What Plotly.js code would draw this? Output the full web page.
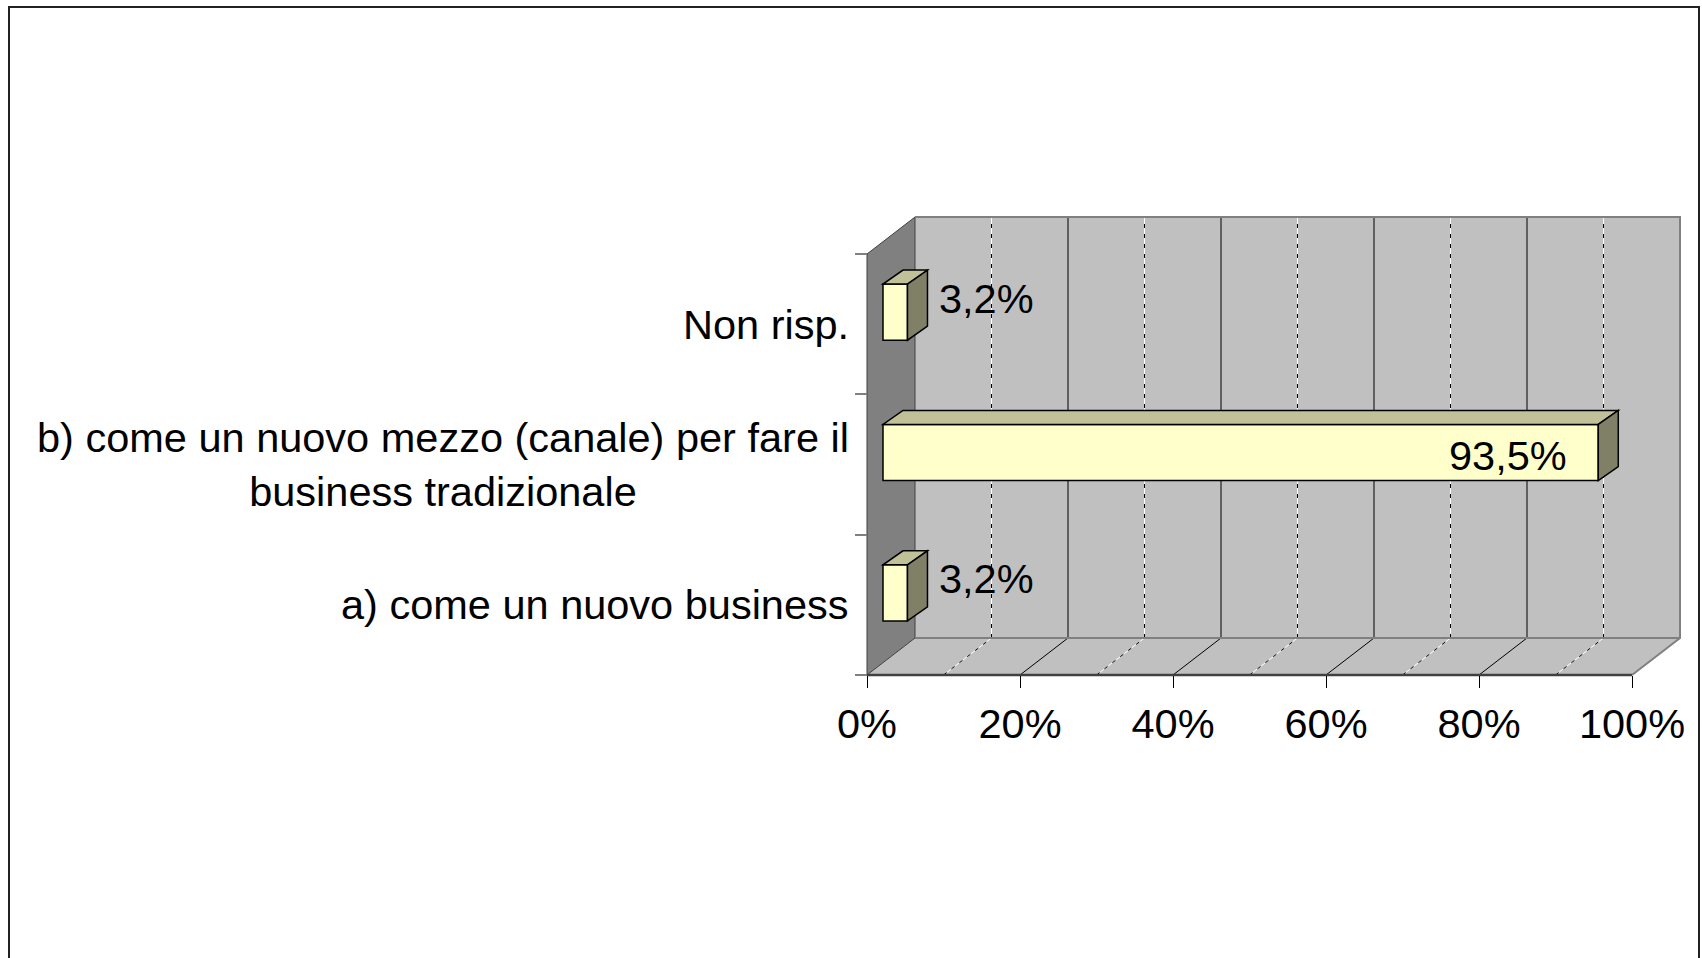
<!DOCTYPE html>
<html><head><meta charset="utf-8">
<script src="https://cdn.plot.ly/plotly-3.0.1.min.js"></script>
<style>html,body{margin:0;padding:0;background:#fff;}</style>
</head><body><div id="chart" style="width:1702px;height:958px;"></div>
<script>
// ---- data ----
const categories = ["a) come un nuovo business", "b) come un nuovo mezzo (canale) per fare il<br>business tradizionale", "Non risp."];
const values = [3.2, 93.5, 3.2];
const xTickValues = [0, 20, 40, 60, 80, 100];
const xTickLabels = ["0%", "20%", "40%", "60%", "80%", "100%"];
const gridMajor = [20, 40, 60, 80];
const gridMinor = [10, 30, 50, 70, 90];

// ---- geometry (pixels) ----
const W = 1702, H = 958;
const FX0 = 867, FX1 = 1632;      // front plane: x of 0% and 100%
const FYB = 675, FYT = 254;       // front plane: bottom / top
const DEPTH_X = 48, DEPTH_Y = 37; // wall depth
const BAR_OFF_X = 16, BAR_OFF_Y = 12, BAR_DX = 20, BAR_DY = 14;
const PAD = 4;
const nCat = categories.length;
const pxX = (FX1 - FX0) / 100, pxY = (FYB - FYT) / nCat;
const plotL = FX0 - PAD, plotR = FX1 + DEPTH_X + PAD, plotT = FYT - DEPTH_Y - PAD, plotB = FYB + PAD;
const xRange = [(plotL - FX0) / pxX, (plotR - FX0) / pxX];
const yRange = [-0.5 - (plotB - FYB) / pxY, nCat - 0.5 + (FYT - plotT) / pxY];
const dX = DEPTH_X / pxX, dY = DEPTH_Y / pxY;
const bX = BAR_OFF_X / pxX, bY = BAR_OFF_Y / pxY, bdX = BAR_DX / pxX, bdY = BAR_DY / pxY;
const HALF = 0.2;
const yLo = -0.5, yHi = nCat - 0.5;

const FONT = 'Liberation Sans, Arial, sans-serif';
const FS = 41.5;

const shapes = [];
// outer frame
shapes.push({type:'rect', xref:'paper', yref:'paper', x0:9/W, x1:1699/W, y0:-0.05, y1:1-7/H,
  line:{color:'#222', width:2}, fillcolor:'rgba(0,0,0,0)', layer:'below'});
// back wall
shapes.push({type:'rect', xref:'x', yref:'y', x0:dX, x1:100+dX, y0:yLo+dY, y1:yHi+dY,
  fillcolor:'#C0C0C0', line:{width:0}, layer:'below'});
// floor
shapes.push({type:'path', xref:'x', yref:'y', path:`M0,${yLo} L${dX},${yLo+dY} L${100+dX},${yLo+dY} L100,${yLo} Z`,
  fillcolor:'#C0C0C0', line:{width:0}, layer:'below'});
// left wall
shapes.push({type:'path', xref:'x', yref:'y', path:`M0,${yLo} L0,${yHi} L${dX},${yHi+dY} L${dX},${yLo+dY} Z`,
  fillcolor:'#808080', line:{color:'#404040', width:1}, layer:'below'});
// gridlines (back wall + floor)
gridMinor.forEach(v => {
  [['#FFFFFF','solid'],['#000000','4px,6px']].forEach(([c,d]) => {
    shapes.push({type:'line', xref:'x', yref:'y', x0:v+dX, x1:v+dX, y0:yLo+dY, y1:yHi+dY, line:{color:c, width:1, dash:d}, layer:'below'});
    shapes.push({type:'line', xref:'x', yref:'y', x0:v, x1:v+dX, y0:yLo, y1:yLo+dY, line:{color:c, width:1, dash:d}, layer:'below'});
  });
});
gridMajor.forEach(v => {
  shapes.push({type:'line', xref:'x', yref:'y', x0:v+dX, x1:v+dX, y0:yLo+dY, y1:yHi+dY, line:{color:'#000', width:1}, layer:'below'});
  shapes.push({type:'line', xref:'x', yref:'y', x0:v, x1:v+dX, y0:yLo, y1:yLo+dY, line:{color:'#000', width:1}, layer:'below'});
});
// wall edges
shapes.push({type:'path', xref:'x', yref:'y', path:`M${dX},${yHi+dY} L${100+dX},${yHi+dY} L${100+dX},${yLo+dY} L100,${yLo}`,
  line:{color:'#808080', width:2}, layer:'below'});
shapes.push({type:'line', xref:'x', yref:'y', x0:dX, x1:100+dX, y0:yLo+dY, y1:yLo+dY, line:{color:'#808080', width:2}, layer:'below'});
shapes.push({type:'line', xref:'x', yref:'y', x0:0, x1:100, y0:yLo, y1:yLo, line:{color:'#404040', width:2.5}, layer:'below'});

// 3D bar faces
values.forEach((v, i) => {
  const yb = i + bY - HALF, yt = i + bY + HALF, x0 = bX, x1 = bX + v;
  shapes.push({type:'path', xref:'x', yref:'y', path:`M${x0},${yt} L${x1},${yt} L${x1+bdX},${yt+bdY} L${x0+bdX},${yt+bdY} Z`,
    fillcolor:'#C0C099', line:{color:'#000', width:1.5}, layer:'above'});
  shapes.push({type:'path', xref:'x', yref:'y', path:`M${x1},${yb} L${x1},${yt} L${x1+bdX},${yt+bdY} L${x1+bdX},${yb+bdY} Z`,
    fillcolor:'#808066', line:{color:'#000', width:1.5}, layer:'above'});
});

const annotations = [];
categories.forEach((c, i) => {
  annotations.push({xref:'paper', yref:'y', x:851/W, y:i, xanchor:'right', yanchor:'middle', align:'center',
    text:c, showarrow:false, font:{family:FONT, size:FS, color:'#000'}});
});
values.forEach((v, i) => {
  const inside = v > 50;
  annotations.push({xref:'x', yref:'y', x:bX + v, y:i + bY, showarrow:false,
    xanchor: inside ? 'right' : 'left', yanchor:'middle',
    xshift: inside ? -29 : 30, yshift: inside ? -3 : 14,
    text: v.toFixed(1).replace('.', ',') + '%', font:{family:FONT, size:FS, color:'#000'}});
});

const trace = {
  type:'bar', orientation:'h',
  x: values, y: values.map((v, i) => i + bY), base: bX, width: 2*HALF,
  marker:{color:'#FFFFCC', line:{color:'#000', width:1.5}},
  hoverinfo:'skip', textposition:'none'
};

const layout = {
  width:W, height:H, autosize:false,
  margin:{l:0, r:0, t:0, b:0, pad:0},
  paper_bgcolor:'#fff', plot_bgcolor:'rgba(0,0,0,0)',
  showlegend:false,
  xaxis:{domain:[plotL/W, plotR/W], range:xRange, anchor:'free', position:1 - FYB/H,
    tickmode:'array', tickvals:xTickValues, ticktext:xTickLabels,
    ticks:'outside', ticklen:12, tickcolor:'#000', tickwidth:1,
    tickfont:{family:FONT, size:FS, color:'#000'},
    showgrid:false, zeroline:false, showline:false, fixedrange:true},
  yaxis:{domain:[1 - plotB/H, 1 - plotT/H], range:yRange, anchor:'free', position:FX0/W,
    tickmode:'array', tickvals:Array.from({length:nCat+1}, (_, k) => k - 0.5),
    ticks:'outside', ticklen:12, tickcolor:'#808080', tickwidth:2, showticklabels:false,
    showgrid:false, zeroline:false, showline:false, fixedrange:true},
  shapes, annotations
};

Plotly.newPlot('chart', [trace], layout, {displayModeBar:false, staticPlot:true});
</script>
</body></html>
